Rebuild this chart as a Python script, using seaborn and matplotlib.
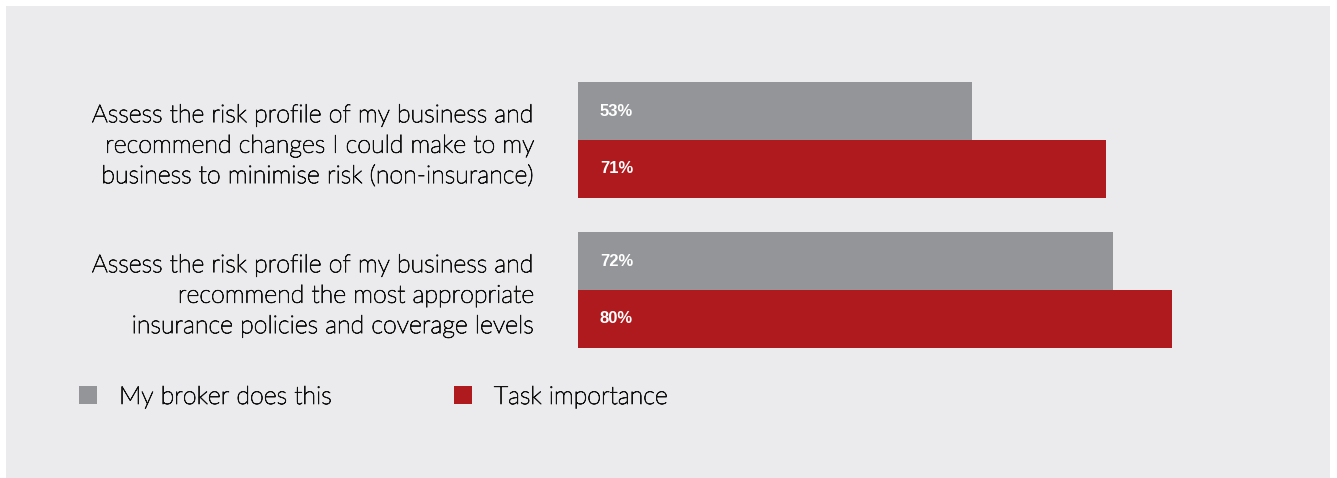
import matplotlib
matplotlib.use("Agg")
import matplotlib.pyplot as plt
import matplotlib.patheffects as pe
from matplotlib.patches import Rectangle, Patch
import seaborn as sns
import pandas as pd

# Survey data
categories = [
    "Assess the risk profile of my business and\nrecommend changes I could make to my\nbusiness to minimise risk (non-insurance)",
    "Assess the risk profile of my business and\nrecommend the most appropriate\ninsurance policies and coverage levels",
]
series = ["My broker does this", "Task importance"]
broker_does = [53, 72]
task_importance = [71, 80]
colors = ["#939598", "#ae1a1e"]

rows = []
for cat, b, t in zip(categories, broker_does, task_importance):
    rows.append({"category": cat, "series": series[0], "value": b})
    rows.append({"category": cat, "series": series[1], "value": t})
df = pd.DataFrame(rows)

sns.set_theme(style="white")
plt.rcParams["font.family"] = ["Lato", "DejaVu Sans"]
plt.rcParams["text.color"] = "#000000"

TEXT_SIZE = 18
TEXT_COLOR = "#111111"
# light face with a hairline outline gives a book-like stroke weight
BOOK = [pe.withStroke(linewidth=0.6, foreground=TEXT_COLOR)]

W, H = 1337, 478
fig = plt.figure(figsize=(W / 100, H / 100), dpi=100, facecolor="white")

# grey backdrop panel
fig.patches.append(Rectangle((6 / W, 0), (1330 - 6) / W, (H - 6) / H,
                             transform=fig.transFigure, facecolor="#ebebed",
                             edgecolor="none", zorder=-10))

ax = fig.add_axes([578 / W, 1 - 365 / H, 743 / W, 300 / H])
ax.set_facecolor("none")

sns.barplot(data=df, y="category", x="value", hue="series", hue_order=series,
            order=categories, palette=colors, orient="h", width=0.767,
            saturation=1, gap=0, legend=False, linewidth=0, ax=ax)

ax.set_xlim(0, 100)
ax.set_ylim(1.5, -0.5)
for s in ax.spines.values():
    s.set_visible(False)
ax.set_xticks([])
ax.set_xlabel("")
ax.set_ylabel("")
ax.tick_params(axis="y", length=0, pad=32.4)
ax.set_yticks(range(len(categories)))
ax.set_yticklabels(categories, fontsize=TEXT_SIZE, fontweight="light",
                   color=TEXT_COLOR, ha="right", linespacing=1.34)
for lbl in ax.get_yticklabels():
    lbl.set_path_effects(BOOK)

# value labels inside bars
values_by_series = [broker_does, task_importance]
for container, vals in zip(ax.containers, values_by_series):
    for patch, v in zip(container.patches, vals):
        yc = patch.get_y() + patch.get_height() / 2
        ax.annotate(f"{v}%", xy=(0, yc), xytext=(15.8, 0),
                    textcoords="offset points", ha="left", va="center",
                    color="white", fontsize=12, fontweight="bold",
                    family=["Liberation Sans", "DejaVu Sans"])

handles = [Patch(facecolor=c, edgecolor="none") for c in colors]
leg = fig.legend(handles, series, loc="center left",
                 bbox_to_anchor=(79 / W, 1 - 397 / H), ncol=2, frameon=False,
                 borderpad=0, borderaxespad=0,
                 handlelength=0.72, handleheight=0.72, handletextpad=0.88,
                 columnspacing=4.9, labelcolor=TEXT_COLOR,
                 prop={"family": ["Lato", "DejaVu Sans"], "weight": "light",
                       "size": TEXT_SIZE})
for t in leg.get_texts():
    t.set_path_effects(BOOK)

fig.savefig("out.png", dpi=100, facecolor="white")
